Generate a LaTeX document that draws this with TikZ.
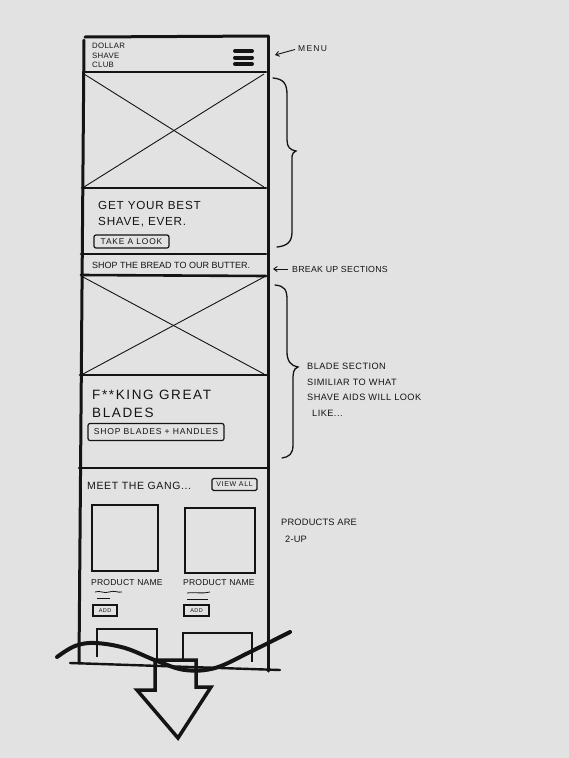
\documentclass[tikz,border=0pt]{standalone}
\usepackage{fontspec}
\setmainfont{Liberation Sans}
\usetikzlibrary{arrows.meta}
\definecolor{paper}{HTML}{E1E2E1}
\definecolor{ink}{HTML}{141414}
\newcommand{\lsp}[1]{\addfontfeature{LetterSpace=#1}}
\tikzset{
  frameline/.style={draw=ink,line width=3pt,line cap=round},
  sepline/.style={draw=ink,line width=2.6pt,line cap=round},
  crossline/.style={draw=ink,line width=0.9pt},
  boxline/.style={draw=ink,line width=1.8pt},
  txt/.style={text=ink,inner sep=0pt,anchor=west},
  btn/.style={draw=ink,line width=1.2pt,rounded corners=2pt,inner sep=0pt,text=ink},
  smallbtn/.style={draw=ink,line width=1.1pt,inner sep=0pt,text=ink,font=\fontsize{5.5}{6}\selectfont\lsp{8}},
  bracel/.style={draw=ink,line width=1.3pt,line cap=round},
  annarrow/.style={draw=ink,line width=0.9pt,-{Straight Barb[length=3.5pt,width=5pt]}},
  squig/.style={draw=ink,line width=0.8pt},
}
\begin{document}
\begin{tikzpicture}[x=1pt,y=-1pt]
\fill[paper] (0,0) rectangle (569,758);
\useasboundingbox (0,0) rectangle (569,758);

% ---- phone frame ----
\draw[frameline] (85,37) -- (268,36);
\draw[frameline] (84,40) -- (79,663);
\draw[frameline] (268,36) -- (268,671);
\draw[sepline] (84,72) -- (266,72);
\draw[sepline] (82,188) -- (266,188);
\draw[sepline] (81,254) -- (266,254);
\draw[sepline] (81,275) -- (266,276);
\draw[sepline] (80,375) -- (267,375);
\draw[sepline] (79,468) -- (267,468);
\draw[frameline,line width=2.4pt] (70,663) -- (280,670);

% ---- header ----
\node[txt,anchor=north west,align=left,font=\fontsize{7.8}{9.6}\selectfont\lsp{4}] (logo) at (92,43) {DOLLAR\\SHAVE\\CLUB};
\draw[draw=ink,line width=4pt,line cap=round] (235,51) -- (252,51);
\draw[draw=ink,line width=4pt,line cap=round] (235,57.5) -- (252,57.5);
\draw[draw=ink,line width=4pt,line cap=round] (235,64) -- (252,64);
\coordinate (menuicon) at (275,55);

% ---- hero image ----
\draw[crossline] (84,74) -- (264,187);
\draw[crossline] (264,74) -- (84,187);

% ---- hero text ----
\node[txt,anchor=north west,align=left,font=\fontsize{11.7}{16}\selectfont\lsp{6.5}] (hero) at (98,201) {GET YOUR BEST\\SHAVE, EVER.};
\node[btn,minimum width=75pt,minimum height=13pt,font=\fontsize{8.4}{9}\selectfont\lsp{10}] (takelook) at (131.5,241.5) {TAKE A LOOK};

% ---- strip ----
\node[txt,font=\fontsize{9}{10}\selectfont] (strip) at (92,265) {SHOP THE BREAD TO OUR BUTTER.};
\coordinate (stripend) at (273,269);

% ---- blade image ----
\draw[crossline] (83,277) -- (264,374);
\draw[crossline] (264,277) -- (83,374);

% ---- blade text ----
\node[txt,anchor=north west,align=left,font=\fontsize{13.5}{18}\selectfont\lsp{12}] (blades) at (92,390) {F**KING GREAT\\BLADES};
\node[btn,minimum width=136pt,minimum height=17pt,font=\fontsize{8.6}{9}\selectfont\lsp{9}] (shopblades) at (156,432) {SHOP BLADES + HANDLES};

% ---- products ----
\node[txt,font=\fontsize{10.5}{11}\selectfont\lsp{6}] (gang) at (87,486) {MEET THE GANG...};
\node[btn,rounded corners=1.5pt,minimum width=45pt,minimum height=12pt,font=\fontsize{7}{7}\selectfont\lsp{10}] (viewall) at (234.5,484.5) {VIEW ALL};

\node[boxline,minimum width=66pt,minimum height=66pt,inner sep=0pt] (prodA) at (125,538) {};
\node[boxline,minimum width=70pt,minimum height=65pt,inner sep=0pt] (prodB) at (220,540.5) {};
\node[txt,font=\fontsize{8.6}{9}\selectfont\lsp{2}] (nameA) at (91,582.5) {PRODUCT NAME};
\node[txt,font=\fontsize{8.6}{9}\selectfont\lsp{2}] (nameB) at (183,582.5) {PRODUCT NAME};
\draw[squig] (95,592) .. controls (100,590) and (104,594) .. (109,592) .. controls (114,590) and (118,593) .. (122,592);
\draw[squig] (97,598) -- (110,598);
\draw[squig] (187,593) .. controls (195,592) and (203,594) .. (210,592);
\draw[squig] (187,599) -- (208,599);
\node[smallbtn,minimum width=24pt,minimum height=11pt] (addA) at (105,610.5) {ADD};
\node[smallbtn,minimum width=25pt,minimum height=11pt] (addB) at (196.5,610.5) {ADD};

\draw[boxline] (97,657) -- (97,629) -- (157,629) -- (157,663);
\draw[boxline] (183,662) -- (183,633) -- (252,633) -- (252,662);

% ---- wave and scroll arrow ----
\draw[draw=ink,line width=4pt,line cap=round] plot[smooth,tension=0.6] coordinates {(57,657) (75,646) (95,643) (125,648) (157,661) (185,670) (215,668) (250,652) (290,632)};
\draw[draw=ink,line width=3.5pt,line join=miter] (155,660) -- (196,660) -- (196,687) -- (211,687) -- (178,738) -- (137,690) -- (155,690) -- cycle;

% ---- annotations ----
\node[txt,font=\fontsize{8.5}{9}\selectfont\lsp{15}] (menu) at (298,49) {MENU};
\coordinate (menustart) at (295,49.5);
\draw[annarrow] (menustart) -- (menuicon);

\draw[bracel] (273,78) .. controls (284,79) and (287,84) .. (287,95) -- (287,140) .. controls (287,147) and (290,150) .. (296,151) .. controls (291,153) and (292,157) .. (292,165) -- (292,232) .. controls (292,242) and (287,246) .. (277,247);

\node[txt,font=\fontsize{8.8}{9}\selectfont\lsp{3}] (breakup) at (292,269.5) {BREAK UP SECTIONS};
\coordinate (breakstart) at (288,269);
\draw[annarrow] (breakstart) -- (stripend);

\draw[bracel] (275,285) .. controls (285,286) and (287,290) .. (287,300) -- (287,352) .. controls (287,361) and (291,366) .. (298,367) .. controls (293,369) and (293,373) .. (293,382) -- (293,445) .. controls (293,454) and (289,457) .. (282,458);

\node[txt,anchor=north west,align=left,font=\fontsize{9.2}{15.5}\selectfont\lsp{5}] (bladenote) at (307,363) {BLADE SECTION\\SIMILIAR TO WHAT\\SHAVE AIDS WILL LOOK\\\hspace{5pt}LIKE...};

\node[txt,anchor=north west,align=left,font=\fontsize{9.3}{17}\selectfont\lsp{2}] (twoup) at (281,519) {PRODUCTS ARE\\\hspace{4pt}2-UP};
\end{tikzpicture}
\end{document}
